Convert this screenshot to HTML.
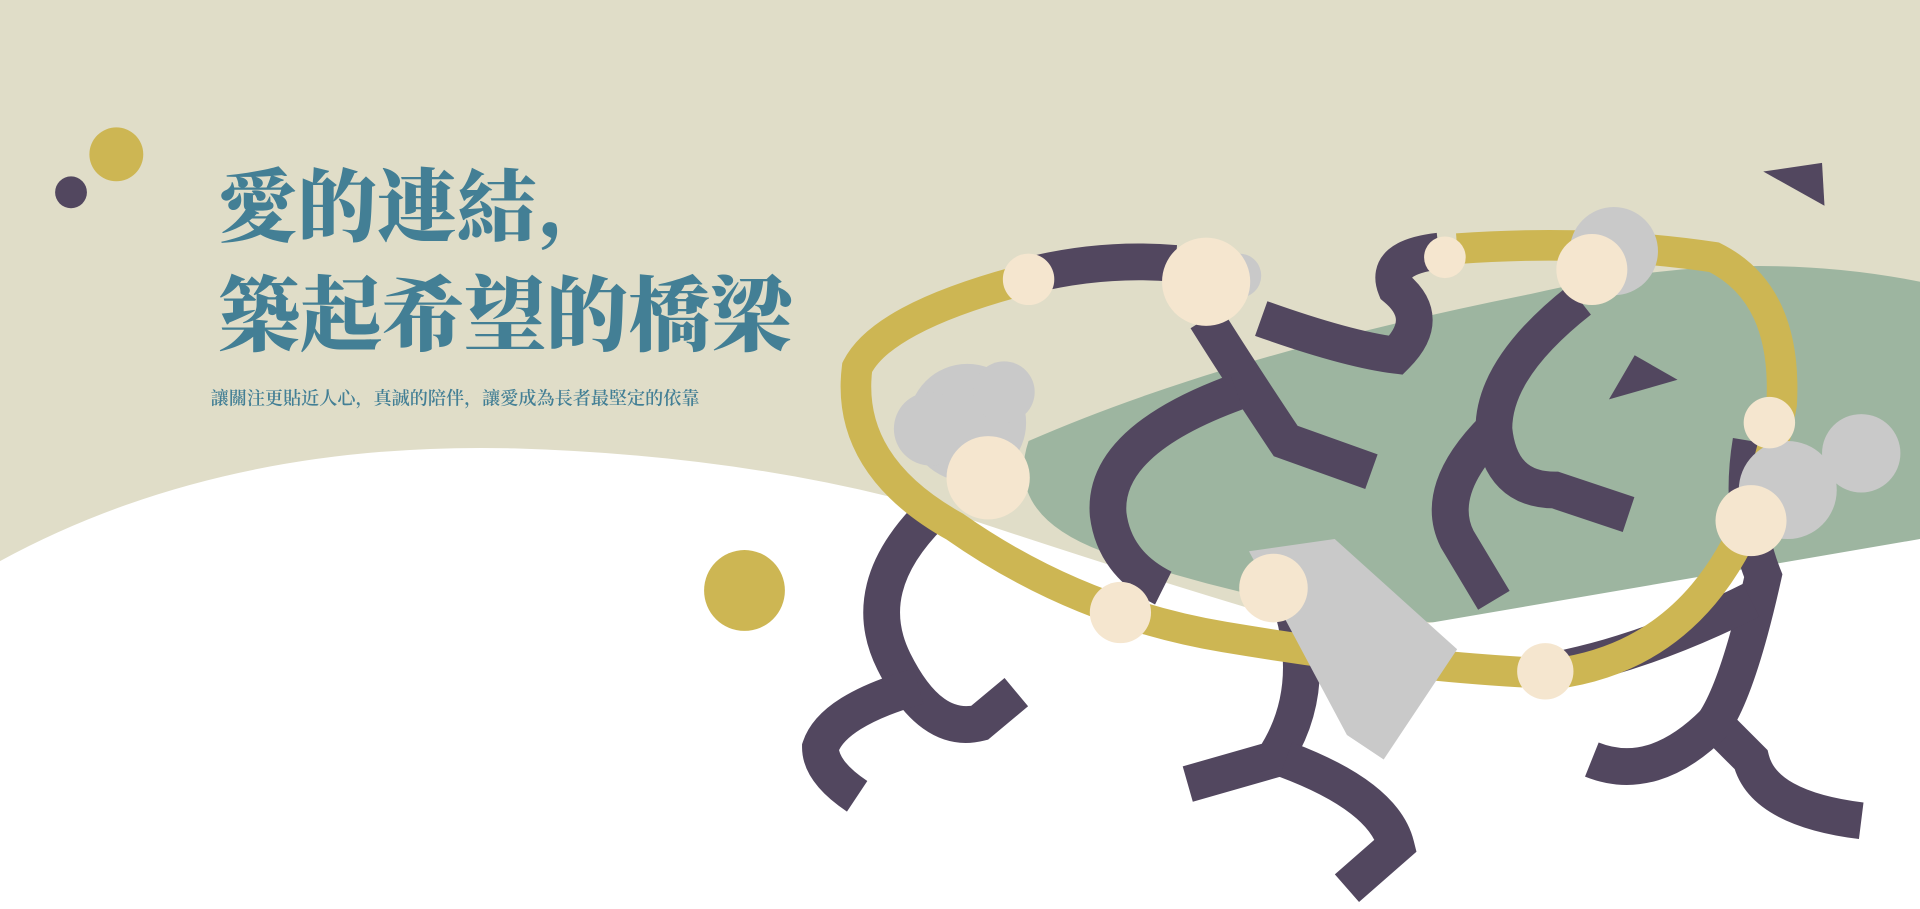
<!DOCTYPE html>
<html><head><meta charset="utf-8"><style>
html,body{margin:0;padding:0;width:1920px;height:909px;overflow:hidden;background:#e0ddc8}
svg{display:block}
</style></head><body>
<svg width="1920" height="909" viewBox="0 0 1568 742" preserveAspectRatio="none">
<rect width="1568" height="742" fill="#e0ddc8"/>
<path d="M1568,230 Q1420,200 1250,240 Q1000,290 840,360 Q820,420 900,450 Q1100,520 1300,510 Q1480,470 1568,440 Z" fill="#9db5a0"/>
<path d="M0,458 Q180,360 420,366 Q620,372 780,420 Q960,480 1100,520 L1568,440 L1568,742 L0,742 Z" fill="#ffffff"/>
<circle cx="95" cy="126" r="22" fill="#cdb653"/>
<circle cx="58" cy="157" r="13" fill="#52475f"/>
<circle cx="608" cy="482" r="33" fill="#cdb653"/>
<polygon points="1440,140 1488,133 1490,168" fill="#52475f"/>
<polygon points="1314,326 1335,290 1370,310" fill="#52475f"/>
<text x="178" y="192" font-family="'Noto Serif CJK SC','Noto Serif CJK TC',serif" font-weight="900" font-size="65" fill="#437f95">愛的連結,</text>
<text x="178" y="281" font-family="'Noto Serif CJK SC','Noto Serif CJK TC',serif" font-weight="900" font-size="67" fill="#437f95">築起希望的橋梁</text>
<text x="172" y="330" font-family="'Noto Serif CJK SC','Noto Serif CJK TC',serif" font-weight="600" font-size="14.8" fill="#437f95">讓關注更貼近人心，真誠的陪伴，讓愛成為長者最堅定的依靠</text>
<g fill="none" stroke="#52475f" stroke-width="30" stroke-linecap="butt">
<path d="M760,420 Q700,480 730,540 Q760,600 800,590 L830,565"/>
<path d="M750,560 Q680,580 670,610 Q670,630 700,650"/>
<path d="M840,225 Q900,210 960,215"/>
<path d="M985,260 Q1010,300 1050,360 L1120,385"/>
<path d="M1010,320 Q900,360 905,420 Q910,460 950,480"/>
<path d="M1030,260 Q1100,285 1140,290 Q1170,260 1140,235 Q1130,210 1175,205"/>
<path d="M1290,245 Q1220,300 1220,350 Q1225,400 1270,400 L1330,420"/>
<path d="M1220,350 Q1170,400 1190,440 L1220,490"/>
<path d="M1050,480 Q1080,560 1040,620 L970,640"/>
<path d="M1050,620 Q1130,650 1140,690 L1100,725"/>
<path d="M1430,360 Q1420,420 1440,470 Q1420,560 1400,590 L1430,620 Q1440,660 1520,670"/>
<path d="M1400,590 Q1350,640 1300,620"/>
<path d="M1430,490 Q1350,530 1280,545"/>
</g>
<path d="M830,230 Q720,260 700,300 Q690,380 780,430 Q880,500 1000,520 Q1150,545 1270,550 Q1420,530 1455,330 Q1460,240 1400,210 Q1300,195 1190,203" fill="none" stroke="#cdb653" stroke-width="25"/>
<g fill="#c9c9c9">
<circle cx="790" cy="345" r="48"/><circle cx="760" cy="350" r="30"/><circle cx="820" cy="320" r="25"/>
<circle cx="1012" cy="225" r="18"/><circle cx="1318" cy="205" r="36"/>
<circle cx="1460" cy="400" r="40"/><circle cx="1520" cy="370" r="32"/>
<polygon points="1020,450 1090,440 1190,530 1130,620 1100,600"/>
</g>
<g fill="#f5e6cf">
<circle cx="807" cy="390" r="34"/><circle cx="985" cy="230" r="36"/><circle cx="1300" cy="220" r="29"/>
<circle cx="1430" cy="425" r="29"/><circle cx="1040" cy="480" r="28"/>
<circle cx="840" cy="228" r="21"/><circle cx="1180" cy="210" r="17"/><circle cx="1445" cy="345" r="21"/>
<circle cx="915" cy="500" r="25"/><circle cx="1262" cy="548" r="23"/>
</g>
</svg>
</body></html>
